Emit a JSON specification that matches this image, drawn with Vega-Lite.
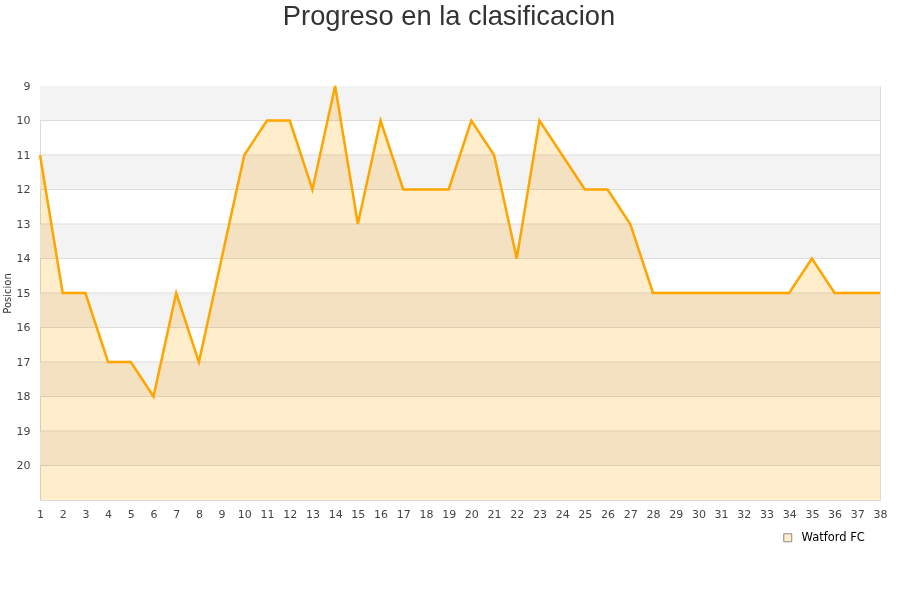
{
  "$schema": "https://vega.github.io/schema/vega-lite/v6.json",
  "width": 840,
  "height": 414,
  "autosize": "none",
  "padding": {"left": 40, "top": 86, "right": 20, "bottom": 100},
  "background": "white",
  "config": {
    "view": {"stroke": "#dddddd", "strokeWidth": 1},
    "font": "DejaVu Sans",
    "axis": {"labelOverlap": false, "labelFlush": false}
  },
  "title": {
    "text": "Progreso en la clasificacion",
    "fontSize": 27.3,
    "font": "Liberation Sans",
    "fontWeight": "normal",
    "color": "#333333",
    "anchor": "middle",
    "dx": -11,
    "offset": 50
  },
  "datasets": {
    "bands": [
      {"desde": 9, "hasta": 10},
      {"desde": 11, "hasta": 12},
      {"desde": 13, "hasta": 14},
      {"desde": 15, "hasta": 16},
      {"desde": 17, "hasta": 18},
      {"desde": 19, "hasta": 20}
    ],
    "lineas": [
      {"nivel": 10}, {"nivel": 11}, {"nivel": 12}, {"nivel": 13}, {"nivel": 14},
      {"nivel": 15}, {"nivel": 16}, {"nivel": 17}, {"nivel": 18}, {"nivel": 19}, {"nivel": 20}
    ],
    "progreso": [
      {"jornada": 1, "posicion": 11, "equipo": "Watford FC"},
      {"jornada": 2, "posicion": 15, "equipo": "Watford FC"},
      {"jornada": 3, "posicion": 15, "equipo": "Watford FC"},
      {"jornada": 4, "posicion": 17, "equipo": "Watford FC"},
      {"jornada": 5, "posicion": 17, "equipo": "Watford FC"},
      {"jornada": 6, "posicion": 18, "equipo": "Watford FC"},
      {"jornada": 7, "posicion": 15, "equipo": "Watford FC"},
      {"jornada": 8, "posicion": 17, "equipo": "Watford FC"},
      {"jornada": 9, "posicion": 14, "equipo": "Watford FC"},
      {"jornada": 10, "posicion": 11, "equipo": "Watford FC"},
      {"jornada": 11, "posicion": 10, "equipo": "Watford FC"},
      {"jornada": 12, "posicion": 10, "equipo": "Watford FC"},
      {"jornada": 13, "posicion": 12, "equipo": "Watford FC"},
      {"jornada": 14, "posicion": 9, "equipo": "Watford FC"},
      {"jornada": 15, "posicion": 13, "equipo": "Watford FC"},
      {"jornada": 16, "posicion": 10, "equipo": "Watford FC"},
      {"jornada": 17, "posicion": 12, "equipo": "Watford FC"},
      {"jornada": 18, "posicion": 12, "equipo": "Watford FC"},
      {"jornada": 19, "posicion": 12, "equipo": "Watford FC"},
      {"jornada": 20, "posicion": 10, "equipo": "Watford FC"},
      {"jornada": 21, "posicion": 11, "equipo": "Watford FC"},
      {"jornada": 22, "posicion": 14, "equipo": "Watford FC"},
      {"jornada": 23, "posicion": 10, "equipo": "Watford FC"},
      {"jornada": 24, "posicion": 11, "equipo": "Watford FC"},
      {"jornada": 25, "posicion": 12, "equipo": "Watford FC"},
      {"jornada": 26, "posicion": 12, "equipo": "Watford FC"},
      {"jornada": 27, "posicion": 13, "equipo": "Watford FC"},
      {"jornada": 28, "posicion": 15, "equipo": "Watford FC"},
      {"jornada": 29, "posicion": 15, "equipo": "Watford FC"},
      {"jornada": 30, "posicion": 15, "equipo": "Watford FC"},
      {"jornada": 31, "posicion": 15, "equipo": "Watford FC"},
      {"jornada": 32, "posicion": 15, "equipo": "Watford FC"},
      {"jornada": 33, "posicion": 15, "equipo": "Watford FC"},
      {"jornada": 34, "posicion": 15, "equipo": "Watford FC"},
      {"jornada": 35, "posicion": 14, "equipo": "Watford FC"},
      {"jornada": 36, "posicion": 15, "equipo": "Watford FC"},
      {"jornada": 37, "posicion": 15, "equipo": "Watford FC"},
      {"jornada": 38, "posicion": 15, "equipo": "Watford FC"}
    ]
  },
  "layer": [
    {
      "data": {"name": "bands"},
      "mark": {"type": "rect", "fill": "#f3f3f3"},
      "encoding": {
        "y": {
          "field": "desde",
          "type": "quantitative",
          "scale": {"domain": [9, 21], "reverse": true, "nice": false, "zero": false},
          "axis": {
            "title": "Posicion",
            "titleFontSize": 10,
            "titleFontWeight": "normal",
            "titleColor": "#333333",
            "titlePadding": 4,
            "values": [9, 10, 11, 12, 13, 14, 15, 16, 17, 18, 19, 20],
            "labelFontSize": 11,
            "labelColor": "#444444",
            "labelPadding": 10,
            "labelOverlap": false,
            "ticks": false,
            "domain": false,
            "grid": false
          }
        },
        "y2": {"field": "hasta"}
      }
    },
    {
      "data": {"name": "lineas"},
      "mark": {"type": "rule", "stroke": "#dddddd", "strokeWidth": 1},
      "encoding": {
        "y": {
          "field": "nivel",
          "type": "quantitative",
          "axis": {
            "title": "Posicion",
            "titleFontSize": 10,
            "titleFontWeight": "normal",
            "titleColor": "#333333",
            "titlePadding": 4,
            "values": [9, 10, 11, 12, 13, 14, 15, 16, 17, 18, 19, 20],
            "labelFontSize": 11,
            "labelColor": "#444444",
            "labelPadding": 10,
            "labelOverlap": false,
            "ticks": false,
            "domain": false,
            "grid": false
          }
        }
      }
    },
    {
      "data": {"name": "progreso"},
      "mark": {"type": "area", "blend": "multiply", "line": false},
      "encoding": {
        "x": {
          "field": "jornada",
          "type": "quantitative",
          "scale": {"domain": [1, 38], "nice": false, "zero": false},
          "axis": {
            "title": null,
            "values": [1, 2, 3, 4, 5, 6, 7, 8, 9, 10, 11, 12, 13, 14, 15, 16, 17, 18, 19, 20, 21, 22, 23, 24, 25, 26, 27, 28, 29, 30, 31, 32, 33, 34, 35, 36, 37, 38],
            "labelFontSize": 11,
            "labelColor": "#444444",
            "labelPadding": 8,
            "labelFlush": false,
            "labelOverlap": false,
            "ticks": false,
            "domain": false,
            "grid": false
          }
        },
        "y": {
          "field": "posicion",
          "type": "quantitative",
          "axis": {
            "title": "Posicion",
            "titleFontSize": 10,
            "titleFontWeight": "normal",
            "titleColor": "#333333",
            "titlePadding": 4,
            "values": [9, 10, 11, 12, 13, 14, 15, 16, 17, 18, 19, 20],
            "labelFontSize": 11,
            "labelColor": "#444444",
            "labelPadding": 10,
            "labelOverlap": false,
            "ticks": false,
            "domain": false,
            "grid": false
          }
        },
        "y2": {"datum": 21},
        "fill": {
          "field": "equipo",
          "type": "nominal",
          "scale": {"range": ["#ffedcc"]},
          "legend": {
            "title": null,
            "orient": "none",
            "legendX": 742,
            "legendY": 446,
            "symbolType": "square",
            "symbolSize": 64,
            "symbolStrokeColor": "#888888",
            "symbolStrokeWidth": 1,
            "labelOffset": 8,
            "labelFontSize": 11.5,
            "labelColor": "#000000",
            "labelFont": "DejaVu Sans"
          }
        }
      }
    },
    {
      "data": {"name": "progreso"},
      "mark": {"type": "line", "stroke": "#ffa500", "strokeWidth": 2.5},
      "encoding": {
        "x": {
          "field": "jornada",
          "type": "quantitative",
          "axis": {
            "title": null,
            "values": [1, 2, 3, 4, 5, 6, 7, 8, 9, 10, 11, 12, 13, 14, 15, 16, 17, 18, 19, 20, 21, 22, 23, 24, 25, 26, 27, 28, 29, 30, 31, 32, 33, 34, 35, 36, 37, 38],
            "labelFontSize": 11,
            "labelColor": "#444444",
            "labelPadding": 8,
            "labelFlush": false,
            "labelOverlap": false,
            "ticks": false,
            "domain": false,
            "grid": false
          }
        },
        "y": {
          "field": "posicion",
          "type": "quantitative",
          "axis": {
            "title": "Posicion",
            "titleFontSize": 10,
            "titleFontWeight": "normal",
            "titleColor": "#333333",
            "titlePadding": 4,
            "values": [9, 10, 11, 12, 13, 14, 15, 16, 17, 18, 19, 20],
            "labelFontSize": 11,
            "labelColor": "#444444",
            "labelPadding": 10,
            "labelOverlap": false,
            "ticks": false,
            "domain": false,
            "grid": false
          }
        }
      }
    }
  ]
}
